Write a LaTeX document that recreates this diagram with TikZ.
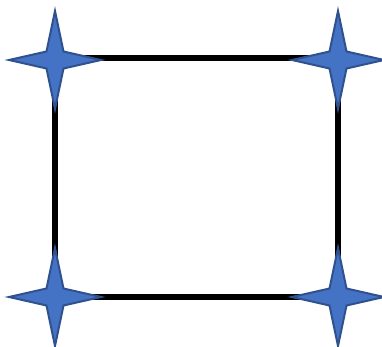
\documentclass[tikz,border=0pt]{standalone}
\definecolor{starfill}{HTML}{4472C4}
\definecolor{starline}{HTML}{2F528F}
\tikzset{
  frame/.style={line width=6pt, draw=black},
  starshape/.style={fill=starfill, draw=starline, line width=2pt, line join=miter},
  pics/fourstar/.style={code={
    \path[starshape] (0,49) -- (8.5,8.5) -- (46,0) -- (8.5,-8.5) -- (0,-49) -- (-8.5,-8.5) -- (-46,0) -- (-8.5,8.5) -- cycle;
  }}
}
\begin{document}
\begin{tikzpicture}[x=1pt,y=1pt]
\useasboundingbox (0,0) rectangle (382,347);
\coordinate (tl) at (55,289);
\coordinate (tr) at (338,289);
\coordinate (br) at (338,50);
\coordinate (bl) at (55,50);
\draw[frame] (tl) -- (tr) -- (br) -- (bl) -- cycle;
\pic at ([yshift=-2pt]tl) {fourstar};
\pic at ([yshift=-2pt]tr) {fourstar};
\pic at (bl) {fourstar};
\pic at (br) {fourstar};
\end{tikzpicture}
\end{document}
